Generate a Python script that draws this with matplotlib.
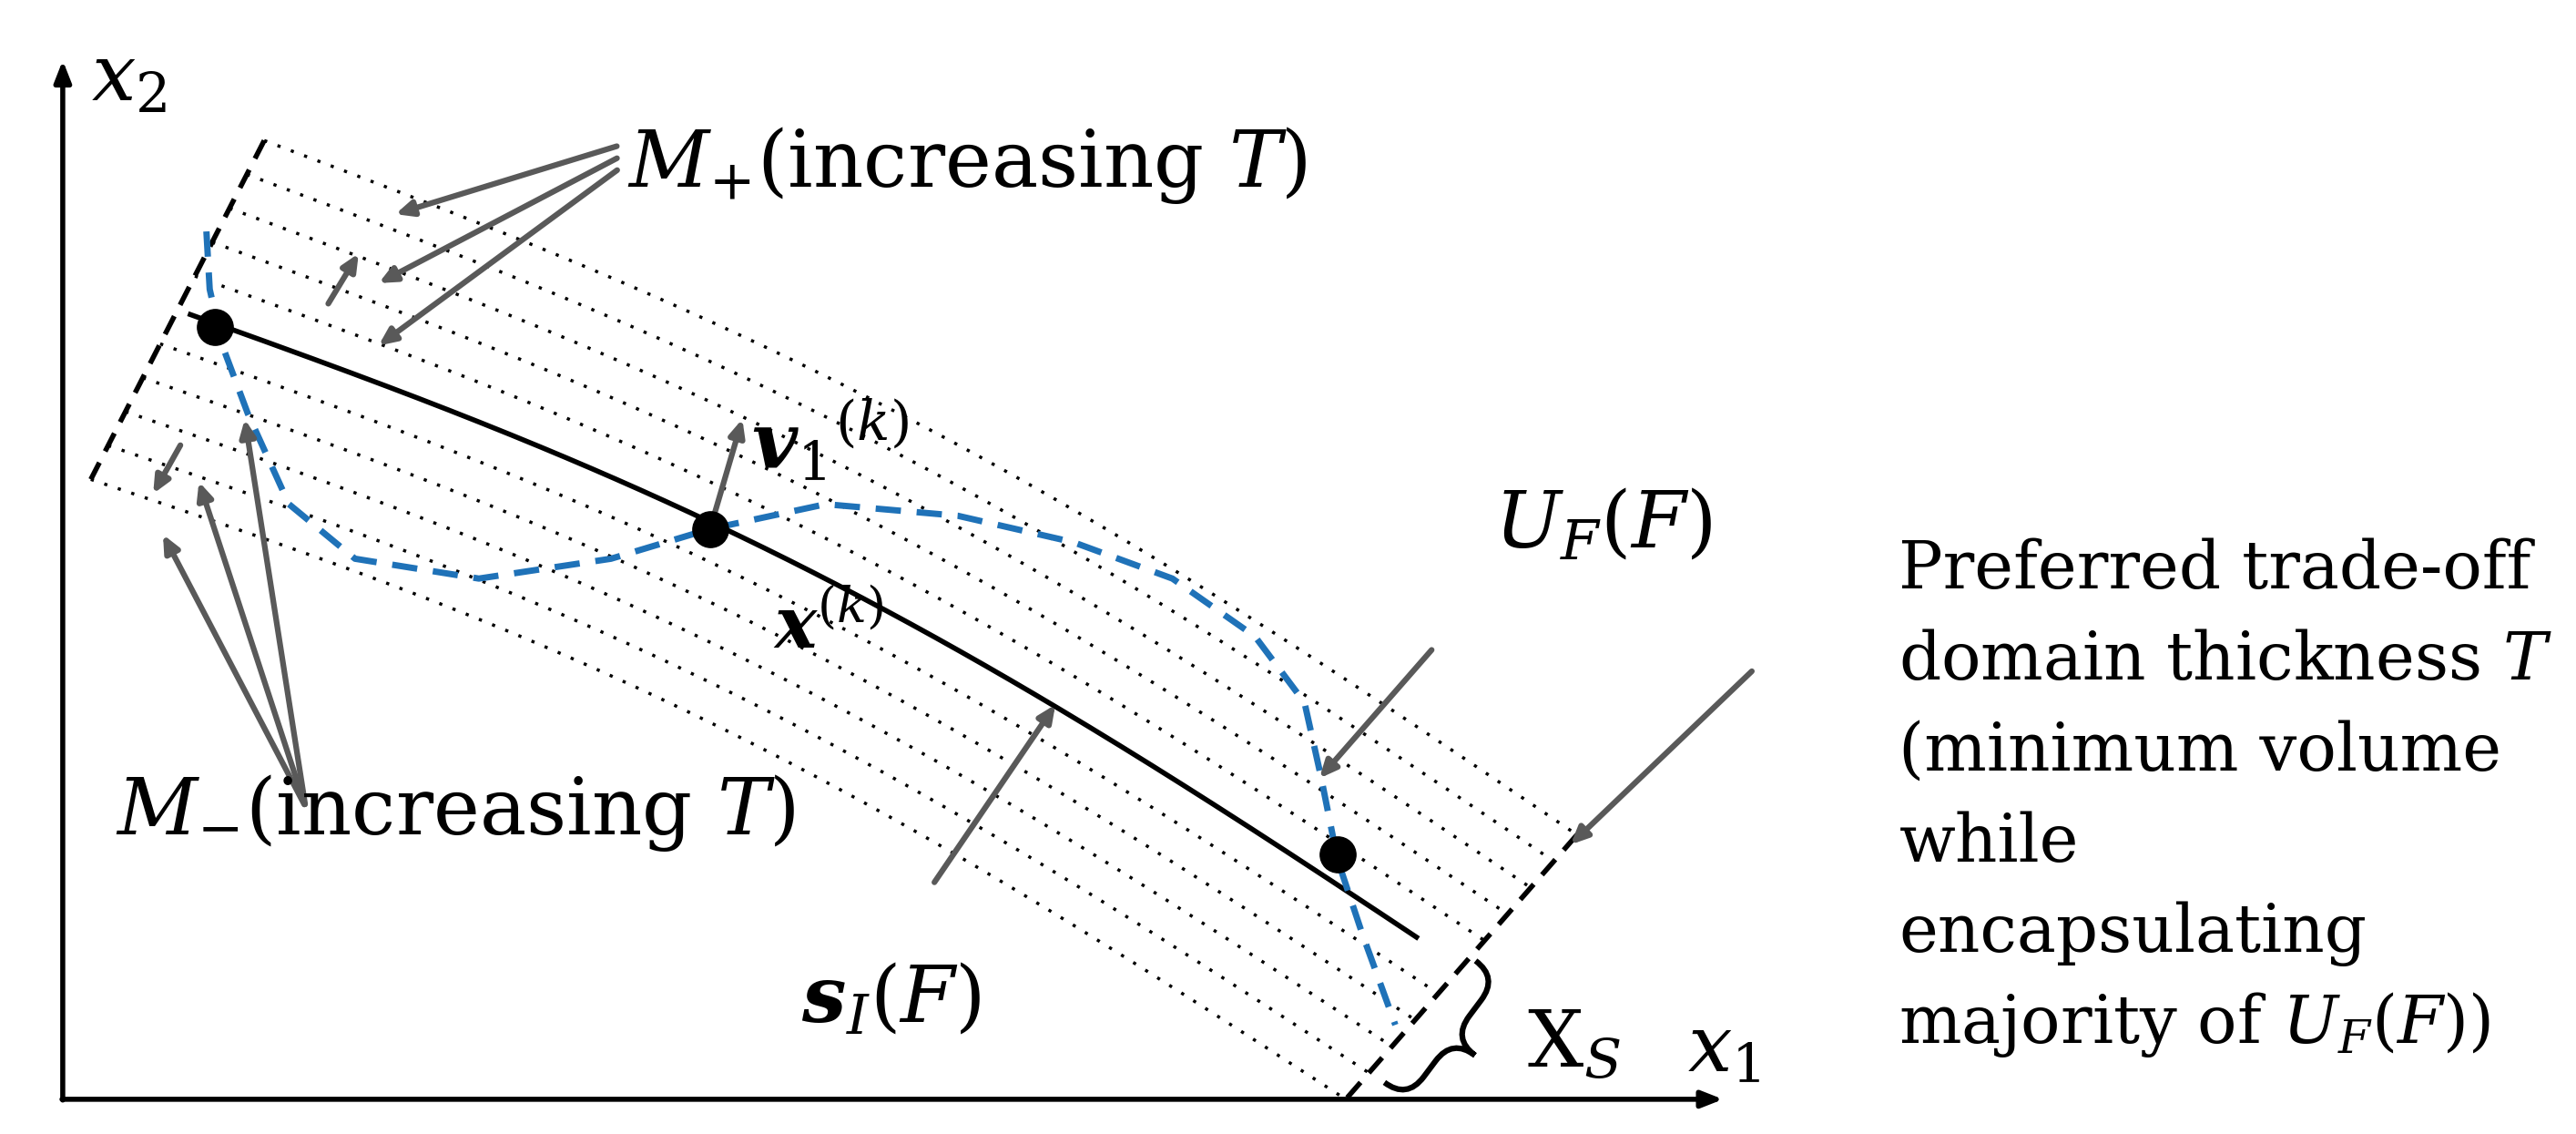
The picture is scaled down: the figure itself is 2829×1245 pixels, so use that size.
import numpy as np
import matplotlib.pyplot as plt
from matplotlib.path import Path
from matplotlib.patches import PathPatch

plt.rcParams['mathtext.fontset'] = 'dejavuserif'
plt.rcParams['font.family'] = 'DejaVu Serif'

# figure works in display-pixel coordinates of a 1560 x 686 canvas (y down)
W, H = 1560, 686

# domain boundaries (dashed) : start/end points
left_edge = np.array([[160, 85], [55, 290]])
right_edge = np.array([[955, 505], [815, 665]])
dotted_t = [0.0, 0.1, 0.2, 0.3, 0.4, 0.6, 0.7, 0.8, 0.9, 1.0]
solid_t = 0.5
sag = 38

# blue dashed U_F(F) curve
uf_x = [125, 127, 135, 150, 175, 215, 290, 370, 430, 500, 580, 650, 710, 760, 790, 800, 810, 825, 845]
uf_y = [140, 175, 210, 250, 305, 338, 350, 338, 320, 305, 312, 328, 350, 385, 425, 470, 520, 565, 620]

# points on the curve
pts_x = [130, 430, 810]
pts_y = [198, 320, 517]

gray = '#595959'
blue = '#1f72b8'


def band(t, s):
    L = left_edge[0] + t * (left_edge[1] - left_edge[0])
    R = right_edge[0] + t * (right_edge[1] - right_edge[0])
    x = (1 - s) * L[0] + s * R[0]
    y = (1 - s) * L[1] + s * R[1] - sag * np.sin(np.pi * s)
    return x, y


fig = plt.figure(figsize=(28.29, 12.45), dpi=100)
ax = fig.add_axes([0, 0, 1, 1])
ax.set_xlim(0, W)
ax.set_ylim(H, 0)
ax.axis('off')

s = np.linspace(0, 1, 200)
for t in dotted_t:
    x, y = band(t, s)
    ax.plot(x, y, color='black', linestyle=(0, (1, 3.5)), lw=2.5)

x, y = band(solid_t, np.linspace(0.01, 0.965, 200))
ax.plot(x, y, color='black', lw=4)

ax.plot(left_edge[:, 0], left_edge[:, 1], 'k--', lw=4, dashes=(4, 2.5))
ax.plot(right_edge[:, 0], right_edge[:, 1], 'k--', lw=4, dashes=(4, 2.5))

ax.plot(uf_x, uf_y, color=blue, lw=5, dashes=(4, 2.5))
ax.scatter(pts_x, pts_y, s=800, color='black', zorder=5)

# curly brace X_S
c = np.array([866, 618])
u = np.array([-45, 60]) / 75.0
v = np.array([0.8, 0.6])
Lb, wb = 46, 34
loc = [(0, -Lb), (wb / 2, -Lb), (wb / 2, -Lb + wb / 2), (wb / 2, -wb / 2), (wb / 2, 0), (wb, 0),
       (wb / 2, 0), (wb / 2, wb / 2), (wb / 2, Lb - wb / 2), (wb / 2, Lb), (0, Lb)]
verts = [tuple(c + b * u + a * v) for a, b in loc]
codes = [Path.MOVETO, Path.CURVE3, Path.CURVE3, Path.LINETO, Path.CURVE3, Path.CURVE3,
         Path.CURVE3, Path.CURVE3, Path.LINETO, Path.CURVE3, Path.CURVE3]
ax.add_patch(PathPatch(Path(verts, codes), fill=False, lw=4.5, color='black'))

# axes arrows
axprops = dict(arrowstyle='-|>,head_length=1.4,head_width=0.55', color='black', lw=4)
ax.annotate('', xy=(38, 35), xytext=(38, 667), arrowprops=axprops)
ax.annotate('', xy=(1045, 665), xytext=(36, 665), arrowprops=axprops)

gprops = dict(arrowstyle='-|>,head_length=1.1,head_width=0.5', color=gray, lw=4.5)
arrows = [((375, 88), (238, 130)), ((375, 95), (228, 172)), ((375, 102), (228, 210)),
          ((198, 185), (218, 152)),
          ((185, 488), (98, 322)), ((185, 488), (120, 290)), ((185, 488), (148, 252)),
          ((110, 268), (92, 300)),
          ((430, 320), (450, 252)),
          ((868, 392), (798, 472)),
          ((565, 535), (640, 425)),
          ((1062, 405), (950, 512))]
for a, b in arrows:
    ax.annotate('', xy=b, xytext=a, arrowprops=gprops)

fs = 62
ax.text(55, 48, r'$x_{2}$', fontsize=fs, va='center')
ax.text(1022, 635, r'$x_{1}$', fontsize=fs, va='center')
ax.text(380, 100, r'$M_{+}$(increasing $T$)', fontsize=fs, va='center')
ax.text(70, 492, r'$M_{-}$(increasing $T$)', fontsize=fs, va='center')
ax.text(455, 268, r'$\boldsymbol{v}_{1}{}^{(k)}$', fontsize=fs, va='center')
ax.text(468, 380, r'$\boldsymbol{x}^{(k)}$', fontsize=fs * 0.9, va='center')
ax.text(905, 318, r'$U_{F}(F)$', fontsize=fs, va='center')
ax.text(485, 605, r'$\boldsymbol{s}_{I}(F)$', fontsize=fs, va='center')
ax.text(925, 632, r'$\mathrm{X}_{S}$', fontsize=fs, va='center')

lines = ['Preferred trade-off', r'domain thickness $T$', '(minimum volume', 'while',
         'encapsulating', r'majority of $U_{F}(F)$)']
for i, ln in enumerate(lines):
    ax.text(1150, 345 + i * 55, ln, fontsize=52, va='center')

fig.savefig('out.png', dpi=100)
